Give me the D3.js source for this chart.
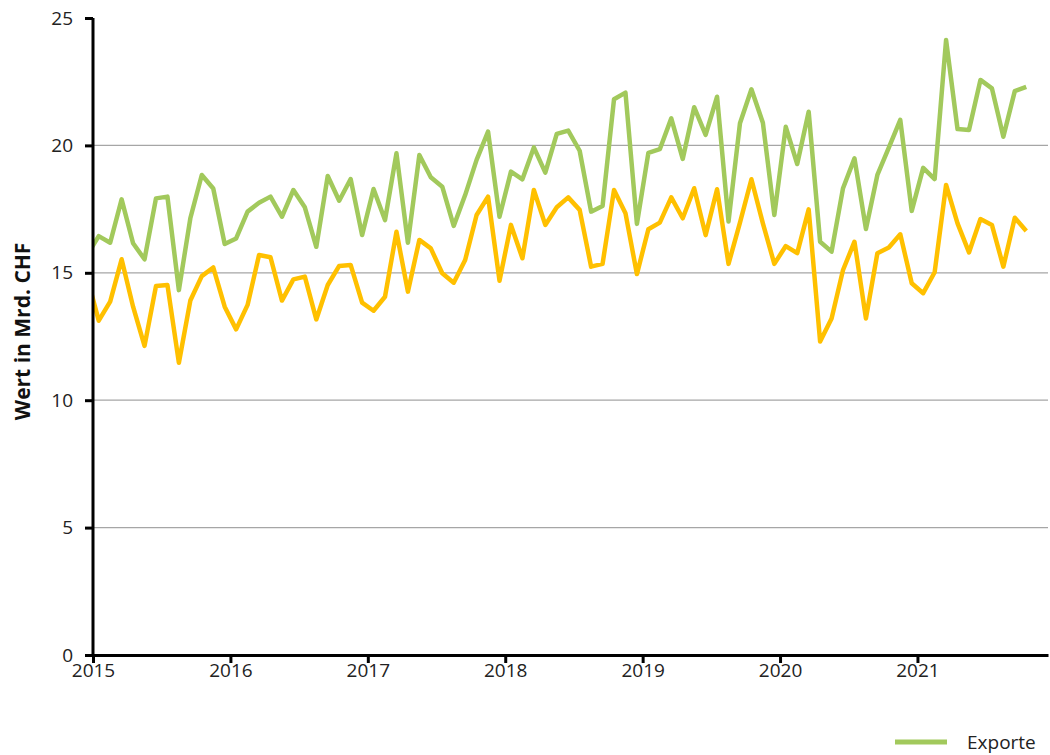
<!DOCTYPE html>
<html>
<head>
<meta charset="utf-8">
<script src="https://cdn.jsdelivr.net/npm/d3@7"></script>
<style>
  body { margin: 0; background: #fff; }
  svg { font-family: "Open Sans", sans-serif; }
</style>
</head>
<body>
<div id="chart"></div>
<script>
var WIDTH = 1050;
var HEIGHT = 755;

// year tick labels, one every 12 months starting Jan 2015
var years = ["2015", "2016", "2017", "2018", "2019", "2020", "2021"];
var yTicks = [0, 5, 10, 15, 20, 25];

// monthly values in Mrd. CHF, Dec 2014 .. Oct 2021
var exporte = [15.7,
  16.44, 16.18, 17.88, 16.16, 15.53, 17.92, 17.99, 14.32, 17.14, 18.84, 18.31, 16.13,
  16.35, 17.40, 17.75, 17.99, 17.20, 18.25, 17.57, 16.02, 18.80, 17.83, 18.68, 16.48,
  18.29, 17.07, 19.69, 16.18, 19.62, 18.75, 18.38, 16.84, 18.05, 19.43, 20.54, 17.20,
  18.97, 18.67, 19.92, 18.93, 20.45, 20.58, 19.79, 17.40, 17.62, 21.81, 22.07, 16.92,
  19.71, 19.85, 21.06, 19.47, 21.50, 20.41, 21.91, 17.01, 20.87, 22.20, 20.89, 17.27,
  20.73, 19.27, 21.32, 16.22, 15.83, 18.32, 19.49, 16.72, 18.84, 19.91, 21.00, 17.43,
  19.12, 18.68, 24.14, 20.64, 20.60, 22.57, 22.24, 20.34, 22.13, 22.30];

var importe = [14.8,
  13.12, 13.87, 15.53, 13.67, 12.13, 14.48, 14.52, 11.47, 13.91, 14.87, 15.21, 13.67,
  12.78, 13.74, 15.70, 15.61, 13.91, 14.74, 14.85, 13.17, 14.52, 15.27, 15.31, 13.83,
  13.51, 14.06, 16.61, 14.26, 16.29, 15.96, 14.98, 14.61, 15.50, 17.27, 17.99, 14.69,
  16.88, 15.57, 18.25, 16.88, 17.57, 17.96, 17.47, 15.24, 15.35, 18.25, 17.34, 14.95,
  16.71, 16.97, 17.96, 17.14, 18.32, 16.48, 18.28, 15.35, 16.97, 18.67, 16.94, 15.35,
  16.05, 15.77, 17.49, 12.30, 13.21, 15.11, 16.22, 13.21, 15.77, 15.99, 16.51, 14.59,
  14.20, 15.02, 18.45, 16.94, 15.80, 17.11, 16.88, 15.24, 17.16, 16.64];

var FIRST_MONTH = -1;   // Dec 2014 sits left of the axis and gets clipped

var margin = { left: 93, right: 2, top: 18, bottom: 100 };

var svg = d3.select("#chart").append("svg")
    .attr("width", WIDTH)
    .attr("height", HEIGHT);

var x = d3.scaleLinear()
    .domain([0, 83.4])
    .range([margin.left, WIDTH - margin.right]);

var y = d3.scaleLinear()
    .domain([0, 25])
    .range([HEIGHT - margin.bottom, margin.top]);

svg.append("clipPath").attr("id", "plot")
  .append("rect")
    .attr("x", margin.left)
    .attr("y", 0)
    .attr("width", WIDTH - margin.left - margin.right)
    .attr("height", HEIGHT - margin.bottom);

// gridlines
svg.append("g")
    .selectAll("line")
    .data([5, 10, 15, 20])
    .enter().append("line")
    .attr("x1", margin.left)
    .attr("x2", WIDTH - margin.right)
    .attr("y1", function(d) { return y(d); })
    .attr("y2", function(d) { return y(d); })
    .style("stroke", "#a6a6a6")
    .style("stroke-width", 1.3);

function monthPos(d, i) { return x(FIRST_MONTH + i + 0.5); }

var line = d3.line()
    .x(function(d, i) { return monthPos(d, i); })
    .y(function(d) { return y(d); });

var lines = svg.append("g").attr("clip-path", "url(#plot)");

lines.append("path")
    .datum(exporte)
    .attr("d", line)
    .style("fill", "none")
    .style("stroke", "#a2c95c")
    .style("stroke-width", 4.5)
    .style("stroke-linejoin", "round");

lines.append("path")
    .datum(importe)
    .attr("d", line)
    .style("fill", "none")
    .style("stroke", "#ffc000")
    .style("stroke-width", 4.5)
    .style("stroke-linejoin", "round");

// y axis
var yAxis = svg.append("g")
    .attr("transform", "translate(" + margin.left + ",0)")
    .call(d3.axisLeft(y).tickValues(yTicks).tickSize(8).tickPadding(12));

// x axis
var xAxis = svg.append("g")
    .attr("transform", "translate(0," + y(0) + ")")
    .call(d3.axisBottom(x)
        .tickValues(years.map(function(d, i) { return i * 12; }))
        .tickFormat(function(d, i) { return years[i]; })
        .tickSize(8)
        .tickPadding(1)
        .tickSizeOuter(0));

[yAxis, xAxis].forEach(function(a) {
    a.select(".domain").style("stroke", "#000").style("stroke-width", 3);
    a.selectAll(".tick line").style("stroke", "#000").style("stroke-width", 3);
    a.selectAll(".tick text")
        .style("font-size", "19px")
        .style("fill", "#222")
        .style("font-family", "'Open Sans', sans-serif");
});
yAxis.select(".domain").attr("d", "M0," + y(25) + "V" + y(0));

svg.append("text")
    .attr("transform", "translate(30," + y(12.7) + ") rotate(-90)")
    .attr("text-anchor", "middle")
    .style("font-size", "21px")
    .style("font-weight", "bold")
    .style("fill", "#111")
    .text("Wert in Mrd. CHF");

// legend (only the first entry fits in the frame)
var legend = svg.append("g").attr("transform", "translate(895,742)");
legend.append("line")
    .attr("x1", 0).attr("x2", 52)
    .style("stroke", "#a2c95c")
    .style("stroke-width", 5);
legend.append("text")
    .attr("x", 72)
    .attr("dy", "0.35em")
    .style("font-size", "19px")
    .style("fill", "#222")
    .text("Exporte");
</script>
</body>
</html>
